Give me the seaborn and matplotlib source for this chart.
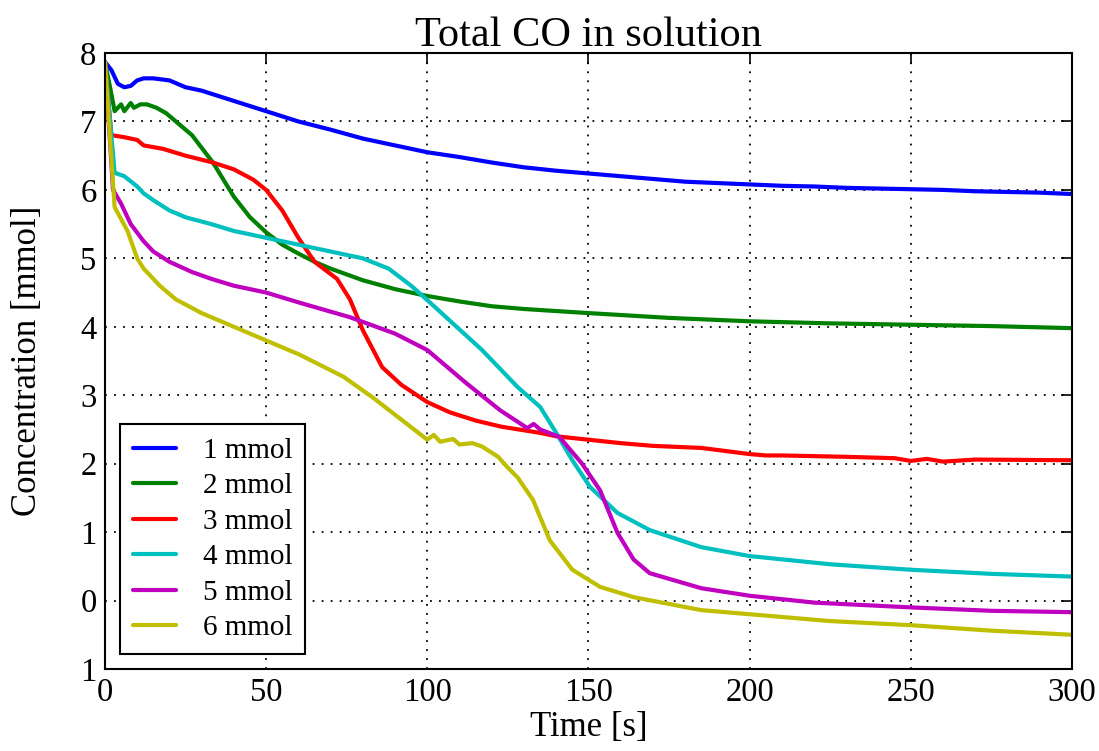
import pandas as pd
import seaborn as sns
import matplotlib.pyplot as plt

# time [s] and concentration [mmol]
t1 = [0, 2, 4, 6, 8, 10, 12, 15, 20, 25, 30, 40, 50, 60, 70, 80, 90, 100, 110, 120, 130, 140,
      150, 160, 170, 180, 190, 200, 210, 220, 230, 240, 250, 260, 270, 280, 290, 300]
c1 = [7.87, 7.75, 7.55, 7.5, 7.52, 7.6, 7.63, 7.63, 7.6, 7.5, 7.45, 7.3, 7.15, 7.0, 6.88, 6.75, 6.65, 6.55,
      6.48, 6.4, 6.33, 6.28, 6.24, 6.2, 6.16, 6.12, 6.1, 6.08, 6.06, 6.05, 6.03, 6.02, 6.01, 6.0, 5.98,
      5.97, 5.96, 5.94]

t2 = [0, 2, 3, 5, 6, 8, 9, 11, 13, 16, 19, 22, 27, 33.5, 40, 45, 50, 55, 60, 65, 70, 80, 90, 100,
      110, 120, 130, 140, 150, 175, 200, 225, 250, 275, 300]
c2 = [7.87, 7.4, 7.15, 7.25, 7.15, 7.27, 7.2, 7.25, 7.25, 7.2, 7.12, 7.0, 6.8, 6.4, 5.9, 5.6, 5.38, 5.2,
      5.07, 4.95, 4.85, 4.68, 4.55, 4.45, 4.37, 4.3, 4.26, 4.23, 4.2, 4.13, 4.08, 4.05, 4.03, 4.01, 3.98]

t3 = [0, 2, 6, 10, 12, 18, 25, 33.5, 40, 46, 50, 55, 60, 65, 72, 76, 80, 86, 92, 100, 107, 115,
      123, 135, 140, 150, 160, 170, 185, 195, 200, 205, 210, 230, 245, 250, 255, 260, 270, 300]
c3 = [7.87, 6.8, 6.77, 6.73, 6.65, 6.6, 6.5, 6.4, 6.3, 6.15, 6.0, 5.7, 5.3, 4.95, 4.7, 4.4, 3.95, 3.41,
      3.15, 2.9, 2.75, 2.63, 2.54, 2.45, 2.4, 2.35, 2.3, 2.26, 2.23, 2.17, 2.14, 2.12, 2.12, 2.1, 2.08,
      2.04, 2.07, 2.03, 2.06, 2.05]

t4 = [0, 3, 6, 10, 12, 15, 20, 25, 33, 40, 50, 60, 70, 80, 88, 95, 100, 117, 128, 135, 140, 145,
      150.5, 159, 169, 185, 200, 225, 250, 275, 300]
c4 = [7.87, 6.25, 6.2, 6.05, 5.95, 5.85, 5.7, 5.6, 5.5, 5.4, 5.3, 5.2, 5.1, 5.0, 4.85, 4.6, 4.39, 3.66,
      3.12, 2.83, 2.45, 2.05, 1.66, 1.28, 1.03, 0.78, 0.65, 0.53, 0.45, 0.39, 0.35]

t5 = [0, 2.5, 5, 8, 12, 15, 20, 27, 33, 40, 50, 60.5, 76, 90, 100, 112, 122.6, 131, 133, 135,
      141, 148, 153.6, 159, 164, 169, 185, 200, 220, 250, 275, 300]
c5 = [7.87, 6.0, 5.8, 5.5, 5.25, 5.1, 4.95, 4.8, 4.7, 4.6, 4.5, 4.35, 4.14, 3.9, 3.66, 3.18, 2.78,
      2.52, 2.58, 2.5, 2.39, 2.0, 1.61, 0.99, 0.6, 0.4, 0.18, 0.07, -0.03, -0.1, -0.15, -0.17]

t6 = [0, 3, 7, 10, 12, 17, 22, 30, 40, 50, 60.5, 74, 83, 100, 102, 104, 108, 110, 114, 117, 122,
      124.6, 128, 132.8, 138, 145, 153.6, 164, 185, 200, 225, 250, 275, 300]
c6 = [7.87, 5.75, 5.4, 5.0, 4.85, 4.6, 4.4, 4.2, 4.0, 3.8, 3.59, 3.27, 2.97, 2.35, 2.42, 2.32, 2.36,
      2.28, 2.3, 2.25, 2.1, 1.96, 1.8, 1.47, 0.88, 0.45, 0.2, 0.05, -0.14, -0.2, -0.3, -0.36, -0.44, -0.5]

series = ["1 mmol", "2 mmol", "3 mmol", "4 mmol", "5 mmol", "6 mmol"]
colors = ["#0000ff", "#008000", "#ff0000", "#00bfbf", "#bf00bf", "#bfbf00"]
yticks = [-1, 0, 1, 2, 3, 4, 5, 6, 7, 8]
ytick_labels = ["1", "0", "1", "2", "3", "4", "5", "6", "7", "8"]
xticks = [0, 50, 100, 150, 200, 250, 300]

frames = []
for name, t, c in zip(series, [t1, t2, t3, t4, t5, t6], [c1, c2, c3, c4, c5, c6]):
    frames.append(pd.DataFrame({"time": t, "conc": c, "series": name}))
df = pd.concat(frames, ignore_index=True)

sns.set_style("white")
plt.rcParams["font.family"] = ["Liberation Serif", "DejaVu Serif"]
plt.rcParams["text.color"] = "black"
plt.rcParams["axes.labelcolor"] = "black"
plt.rcParams["xtick.color"] = "black"
plt.rcParams["ytick.color"] = "black"

fig = plt.figure(figsize=(10.99, 7.51), dpi=100)
ax = fig.add_axes([0.0955, 0.1092, 0.8799, 0.8202])
sns.lineplot(data=df, x="time", y="conc", hue="series", palette=colors, linewidth=3,
             sort=False, estimator=None, ax=ax)

ax.set_xlim(0, 300)
ax.set_ylim(-1, 8)
ax.set_xticks(xticks)
ax.set_yticks(yticks, labels=ytick_labels)
ax.tick_params(axis="both", direction="in", length=8, width=1.2, labelsize=23.5,
               top=True, right=True, pad=6)
ax.grid(True, linestyle=(0, (1, 4)), color="black", linewidth=1.3)
for s in ax.spines.values():
    s.set_color("black")
    s.set_linewidth(1.5)

ax.set_title("Total CO in solution", fontsize=30.5, pad=5)
ax.set_xlabel("Time [s]", fontsize=25, labelpad=2)
ax.set_ylabel("Concentration [mmol]", fontsize=25, labelpad=26)

leg = ax.legend(loc="lower left", fontsize=21, frameon=True, fancybox=False,
                edgecolor="black", framealpha=1, handlelength=1.5, borderaxespad=0.5,
                labelspacing=0.31, handletextpad=0.9, borderpad=0.45)
leg.get_frame().set_linewidth(1.5)
for line in leg.get_lines():
    line.set_linewidth(3)

fig.savefig("out.png", dpi=100)
